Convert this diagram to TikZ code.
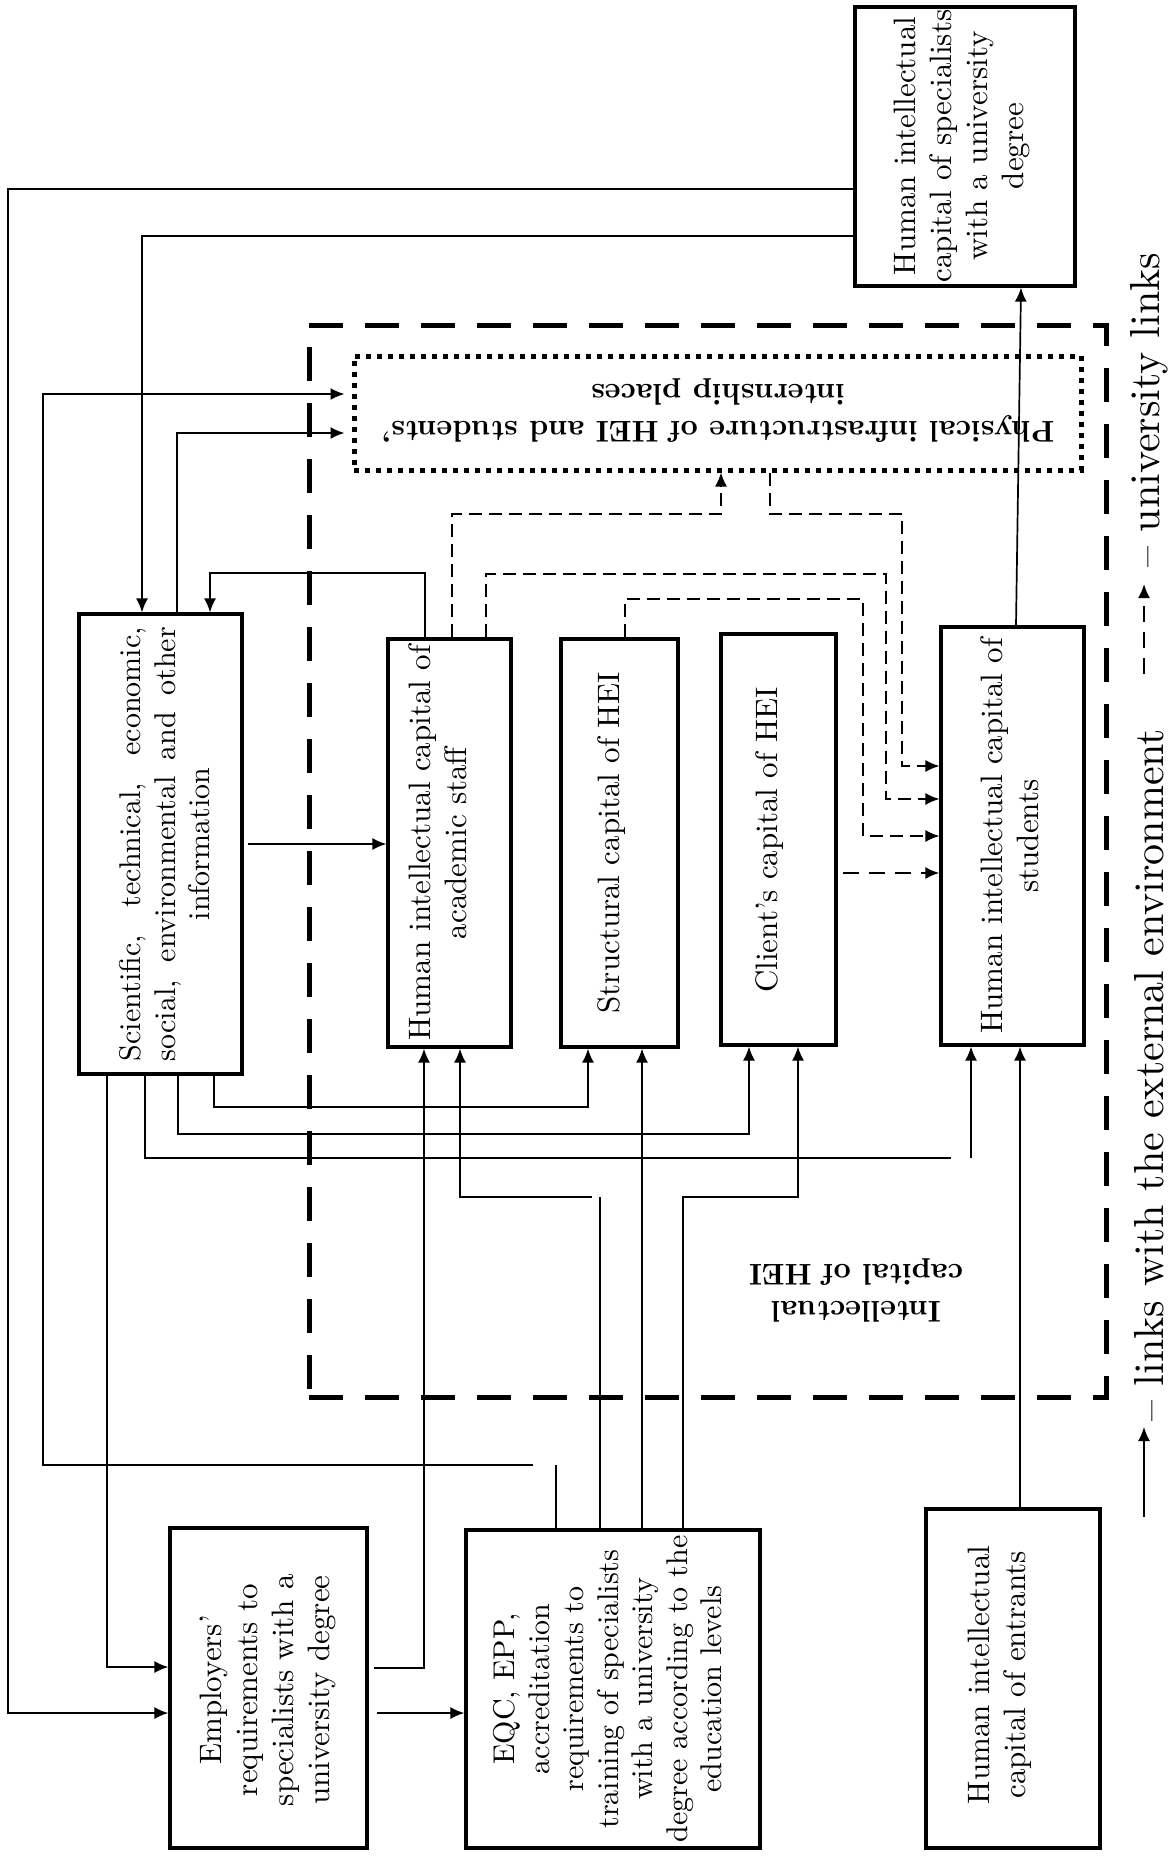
\documentclass[tikz,border=0pt]{standalone}
\usepackage{fontspec}
\setmainfont{lmroman10-regular.otf}[BoldFont=lmroman10-bold.otf,ItalicFont=lmroman10-italic.otf]
\usetikzlibrary{arrows.meta}
\begin{document}
\begin{tikzpicture}[x=1pt,y=-1pt,
  box/.style={draw,line width=3.2pt,inner sep=0pt},
  txt/.style={font=\fontsize{31}{36}\selectfont,align=center,inner sep=0pt},
  stxt/.style={font=\fontsize{30}{34.5}\selectfont,align=center,inner sep=0pt},
  btxt/.style={font=\fontsize{30}{37}\selectfont\bfseries,align=center,inner sep=0pt},
  lgd/.style={font=\fontsize{42}{48}\selectfont,inner sep=0pt},
  link/.style={line width=1.7pt},
  arr/.style={link,-{Latex[length=14pt,width=12pt]}},
  dlink/.style={line width=1.5pt,dash pattern=on 13pt off 7pt},
  darr/.style={dlink,-{Latex[length=14pt,width=12pt]}},
  frame/.style={draw,line width=5pt,dash pattern=on 34pt off 22pt,inner sep=0pt},
  dotbox/.style={draw,line width=5pt,dash pattern=on 5pt off 6pt,inner sep=0pt}
]
\fill[white] (0,0) rectangle (1171,1856);
\useasboundingbox (0,0) rectangle (1171,1856);

% boundary of the intellectual capital of the HEI
\node[frame,minimum width=797pt,minimum height=1072pt] (ic) at (707.5,861) {};
\node[btxt,rotate=180] (icT) at (856,1290) {Intellectual\\capital of HEI};

% blocks
\node[box,minimum width=220pt,minimum height=279pt] (tr) at (965,146.5) {};
\node[txt,rotate=90] (trT) at (962,146) {Human intellectual\\capital of specialists\\with a university\\degree};

\node[dotbox,minimum width=727pt,minimum height=114pt] (phys) at (717.5,413) {};
\node[btxt,rotate=180] (physT) at (718,411) {Physical infrastructure of HEI and students’\\internship places};

\node[box,minimum width=163pt,minimum height=460pt] (info) at (160.5,844) {};
\node[stxt,rotate=90] (infoT) at (165,844) {\makebox[434pt][s]{Scientific, technical, economic,}\\\makebox[434pt][s]{social, environmental and other}\\information};

\node[box,minimum width=123pt,minimum height=408pt] (staff) at (449.5,843) {};
\node[txt,rotate=90] (staffT) at (438,843) {Human intellectual capital of\\academic staff};

\node[box,minimum width=117pt,minimum height=408pt] (struct) at (619.5,843) {};
\node[txt,rotate=90] (structT) at (612,843) {Structural capital of HEI};

\node[box,minimum width=115pt,minimum height=411pt] (client) at (778.5,839.5) {};
\node[txt,rotate=90] (clientT) at (770,840) {Client’s capital of HEI};

\node[box,minimum width=143pt,minimum height=418pt] (stud) at (1012.5,836) {};
\node[txt,rotate=90] (studT) at (1010,836) {Human intellectual capital of\\students};

\node[box,minimum width=197pt,minimum height=320pt] (emp) at (268.5,1688) {};
\node[txt,rotate=90] (empT) at (268,1690) {Employers’\\requirements to\\specialists with a\\university degree};

\node[box,minimum width=294pt,minimum height=318pt] (eqc) at (613,1689) {};
\node[stxt,rotate=90] (eqcT) at (608,1689) {EQC, EPP,\\accreditation\\requirements to\\training of specialists\\with a university\\degree according to the\\education levels};

\node[box,minimum width=174pt,minimum height=339pt] (entr) at (1013,1678.5) {};
\node[txt,rotate=90] (entrT) at (1000,1675) {Human intellectual\\capital of entrants};

% routing points
\coordinate (a1) at (8,189);    \coordinate (a2) at (8,1713);
\coordinate (b1) at (142,236);
\coordinate (c1) at (177,433);
\coordinate (d1) at (556,1465); \coordinate (d2) at (533,1465);
\coordinate (d3) at (43,1465);  \coordinate (d4) at (43,394);
\coordinate (e1) at (425,573);  \coordinate (e2) at (210,573);
\coordinate (f1) at (248,844);
\coordinate (g1) at (107,1667);
\coordinate (h1) at (145,1158); \coordinate (h2) at (951,1158); \coordinate (h3) at (971,1158);
\coordinate (i1) at (178,1134); \coordinate (i2) at (749,1134);
\coordinate (j1) at (214,1107); \coordinate (j2) at (588,1107);
\coordinate (k0) at (374,1668); \coordinate (k1) at (424,1668);
\coordinate (l1) at (600,1197); \coordinate (l2) at (592,1197); \coordinate (l3) at (460,1197);
\coordinate (m1) at (642,1300);
\coordinate (n1) at (683,1197); \coordinate (n2) at (798,1197);
\coordinate (o1) at (377,1713);
\coordinate (p1) at (1020,1300);
\coordinate (q1) at (1016,600);  \coordinate (q2) at (1021,300);
\coordinate (r1) at (452,514);  \coordinate (r2) at (721,514);
\coordinate (s1) at (770,514);  \coordinate (s2) at (902,514); \coordinate (s3) at (902,766);
\coordinate (t1) at (486,574);  \coordinate (t2) at (886,574); \coordinate (t3) at (886,799);
\coordinate (u1) at (625,599);  \coordinate (u2) at (863,599); \coordinate (u3) at (863,836);
\coordinate (v1) at (843,873);

% links with the external environment
\draw[arr] (a1 -| tr.west) -- (a1) -- (a2) -- (a2 -| emp.west);
\draw[arr] (b1 -| tr.west) -- (b1) -- (b1 |- info.north);
\draw[arr,shorten >=7pt] (c1 |- info.north) -- (c1) -- (c1 -| phys.west);
\draw[link] (d1 |- eqc.north) -- (d1);
\draw[arr,shorten >=7pt] (d2) -- (d3) -- (d4) -- (d4 -| phys.west);
\draw[arr] (e1 |- staff.north) -- (e1) -- (e2) -- (e2 |- info.north);
\draw[arr] (f1) -- (f1 -| staff.west);
\draw[arr] (g1 |- info.south) -- (g1) -- (g1 -| emp.west);
\draw[link] (h1 |- info.south) -- (h1) -- (h2);
\draw[arr] (h3) -- (h3 |- stud.south);
\draw[arr] (i1 |- info.south) -- (i1) -- (i2) -- (i2 |- client.south);
\draw[arr] (j1 |- info.south) -- (j1) -- (j2) -- (j2 |- struct.south);
\draw[arr] (k0) -- (k1) -- (k1 |- staff.south);
\draw[link] (l1 |- eqc.north) -- (l1);
\draw[arr] (l2) -- (l3) -- (l3 |- staff.south);
\draw[arr] (m1 |- eqc.north) -- (m1 |- struct.south);
\draw[arr] (n1 |- eqc.north) -- (n1) -- (n2) -- (n2 |- client.south);
\draw[arr] (o1) -- (o1 -| eqc.west);
\draw[arr] (p1 |- entr.north) -- (p1 |- stud.south);
\draw[arr] (q1 |- stud.north) -- (q2 |- tr.south);

% university links
\draw[darr] (r1 |- staff.north) -- (r1) -- (r2) -- (r2 |- phys.south);
\draw[darr] (s1 |- phys.south) -- (s1) -- (s2) -- (s3) -- (s3 -| stud.west);
\draw[darr] (t1 |- staff.north) -- (t1) -- (t2) -- (t3) -- (t3 -| stud.west);
\draw[darr] (u1 |- struct.north) -- (u1) -- (u2) -- (u3) -- (u3 -| stud.west);
\draw[darr,line width=2pt,dash pattern=on 16pt off 10pt] (v1) -- (v1 -| stud.west);

% legend
\coordinate (la1) at (1144,1517); \coordinate (la2) at (1144,1427);
\coordinate (lb1) at (1144,674);  \coordinate (lb2) at (1144,584);
\draw[arr] (la1) -- (la2);
\draw[darr,line width=2pt,dash pattern=on 16pt off 10pt] (lb1) -- (lb2);
\node[lgd,rotate=90] (lgdA) at (1149,1075) {-- links with the external environment};
\node[lgd,rotate=90] (lgdB) at (1149,410) {-- university links};
\end{tikzpicture}
\end{document}
